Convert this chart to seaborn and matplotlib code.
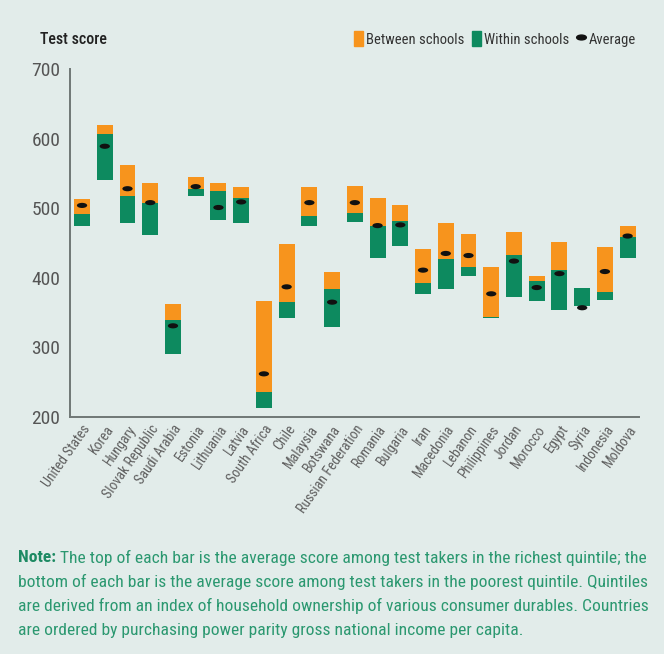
import numpy as np
import pandas as pd
import matplotlib
matplotlib.use("Agg")
import matplotlib.pyplot as plt
import seaborn as sns
from matplotlib import font_manager
from matplotlib.patches import Patch
from matplotlib.lines import Line2D
from matplotlib.path import Path
from matplotlib.transforms import Affine2D

# Data
countries = ["United States", "Korea", "Hungary", "Slovak Republic", "Saudi Arabia",
             "Estonia", "Lithuania", "Latvia", "South Africa", "Chile", "Malaysia",
             "Botswana", "Russian Federation", "Romania", "Bulgaria", "Iran",
             "Macedonia", "Lebanon", "Philippines", "Jordan", "Morocco", "Egypt",
             "Syria", "Indonesia", "Moldova"]
richest = [513, 620, 562, 536, 362, 545, 536, 531, 367, 449, 531, 409, 532,
           515, 505, 442, 479, 463, 416, 466, 402, 451, 385, 444, 475]
split = [491, 606, 517, 507, 339, 527, 524, 514, 236, 365, 489, 384, 493,
         474, 482, 393, 427, 416, 344, 433, 395, 411, 385, 380, 459]
poorest = [475, 540, 479, 461, 290, 517, 483, 479, 213, 342, 475, 330, 480,
           429, 445, 377, 384, 403, 342, 372, 367, 354, 359, 368, 428]
average = [504, 589, 528, 508, 331, 531, 501, 509, 262, 387, 508, 365, 508,
           475, 476, 411, 435, 432, 377, 424, 386, 406, 357, 409, 460]
y_ticks = [200, 300, 400, 500, 600, 700]

df = pd.DataFrame({"country": countries, "richest": richest, "split": split,
                   "poorest": poorest, "average": average})
df["pos"] = np.arange(len(df))

ORANGE = "#f7941d"
GREEN = "#0d8a5f"
BG = "#e2ecea"
NOTE_GREEN = "#2b9870"

sns.set_theme(style="white")
available = {f.name for f in font_manager.fontManager.ttflist}
narrow = [f for f in ["Liberation Sans Narrow", "Roboto Condensed", "Liberation Sans"]
          if f in available]
plt.rcParams["font.family"] = narrow + ["DejaVu Sans"]

fig = plt.figure(figsize=(6.64, 6.54), dpi=100, facecolor=BG)
ax = fig.add_axes([70 / 664, 1 - 417 / 654, 569 / 664, 348 / 654])
ax.set_facecolor(BG)

w = 0.70
ax.bar(df["pos"], df["split"] - df["poorest"], bottom=df["poorest"], width=w,
       color=GREEN, linewidth=0)
ax.bar(df["pos"], df["richest"] - df["split"], bottom=df["split"], width=w,
       color=ORANGE, linewidth=0)

avg_marker = Path.unit_circle().transformed(Affine2D().scale(1.0, 0.5))
sns.scatterplot(data=df, x="pos", y="average", marker=avg_marker, s=55,
                color="#111111", edgecolor="none", ax=ax, zorder=5, legend=False)

ax.set_xlim(-0.53, 24.5)
ax.set_ylim(200, 700)
ax.set_yticks(y_ticks)
ax.set_yticklabels([str(t) for t in y_ticks], fontsize=14, color="#555555")
ax.set_xticks(df["pos"])
ax.set_xticklabels(countries, rotation=55, ha="right", va="top",
                   rotation_mode="anchor", fontsize=10, color="#5f5f5f")
ax.tick_params(axis="both", length=0)
ax.tick_params(axis="y", pad=7)
ax.tick_params(axis="x", pad=4)
ax.set_xlabel("")
ax.set_ylabel("")
for side in ["top", "right"]:
    ax.spines[side].set_visible(False)
for side in ["left", "bottom"]:
    ax.spines[side].set_color("#6f7775")
    ax.spines[side].set_linewidth(1.4)

fig.text(40 / 664, 1 - 40 / 654, "Test score", fontsize=11.5, color="#222222",
         va="center", ha="left", fontweight="medium")

handles = [Patch(color=ORANGE, label="Between schools"),
           Patch(color=GREEN, label="Within schools"),
           Line2D([], [], linestyle="none", marker=avg_marker, markersize=7,
                  color="#111111", label="Average")]
leg = fig.legend(handles=handles, loc="center right", ncol=3, frameon=False,
                 bbox_to_anchor=(642 / 664, 1 - 39 / 654), fontsize=10.5,
                 handlelength=0.65, handleheight=1.2, handletextpad=0.2,
                 columnspacing=0.5, borderaxespad=0)
for t in leg.get_texts():
    t.set_color("#333333")

# Note text
note_lines = ["The top of each bar is the average score among test takers in the richest quintile; the",
              "bottom of each bar is the average score among test takers in the poorest quintile. Quintiles",
              "are derived from an index of household ownership of various consumer durables. Countries",
              "are ordered by purchasing power parity gross national income per capita."]
fig.canvas.draw()
renderer = fig.canvas.get_renderer()
x0 = 18 / 664
ys = [558, 582, 606, 630]
lbl = fig.text(x0, 1 - ys[0] / 654, "Note:", fontsize=12.6, fontweight="bold",
               color="#1d8a63", va="center", ha="left")
bb = lbl.get_window_extent(renderer=renderer)
fig.text(bb.x1 / fig.bbox.width + 4 / 664, 1 - ys[0] / 654, note_lines[0],
         fontsize=12.6, color=NOTE_GREEN, va="center", ha="left")
for line, y in zip(note_lines[1:], ys[1:]):
    fig.text(x0, 1 - y / 654, line, fontsize=12.6, color=NOTE_GREEN,
             va="center", ha="left")

fig.savefig("out.png", dpi=100, facecolor=BG)
